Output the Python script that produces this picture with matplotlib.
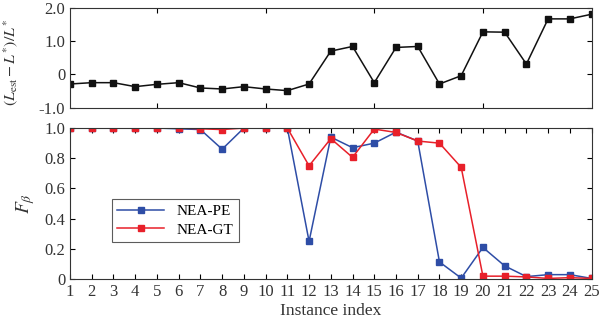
import matplotlib
matplotlib.use('Agg')
import matplotlib.pyplot as plt
import numpy as np

plt.rcParams['font.family'] = ['Liberation Serif', 'DejaVu Serif']
plt.rcParams['mathtext.fontset'] = 'stix'
plt.rcParams['font.size'] = 12

# ---- data ----
instances = np.arange(1, 26)
rel_err = [-0.29, -0.25, -0.25, -0.37, -0.30, -0.25, -0.41, -0.44, -0.37, -0.44,
           -0.49, -0.29, 0.70, 0.84, -0.25, 0.81, 0.84, -0.29, -0.04, 1.28,
           1.27, 0.31, 1.67, 1.67, 1.81]
f_pe = [1.0, 1.0, 1.0, 1.0, 1.0, 0.995, 0.99, 0.86, 1.0, 1.0,
        1.0, 0.25, 0.94, 0.87, 0.90, 0.973, 0.914, 0.114, 0.007, 0.21,
        0.088, 0.017, 0.03, 0.03, 0.005]
f_gt = [1.0, 1.0, 1.0, 1.0, 1.0, 1.0, 0.995, 0.99, 1.0, 1.0,
        1.0, 0.75, 0.93, 0.806, 0.993, 0.971, 0.914, 0.90, 0.74, 0.02,
        0.02, 0.015, 0.005, 0.01, 0.005]

fig = plt.figure(figsize=(6.1, 3.3), dpi=100)
ax1 = fig.add_axes([0.1148, 0.674, 0.855, 0.302])
ax2 = fig.add_axes([0.1148, 0.154, 0.855, 0.458])

for ax in (ax1, ax2):
    ax.tick_params(direction='in', top=True, right=True, length=3.5, width=0.8,
                   labelsize=12, labelcolor='#333333')
    for s in ax.spines.values():
        s.set_linewidth(0.8)
        s.set_color('#333333')

# ---- top panel ----
ax1.plot(instances, rel_err, 's-', color='#111111', lw=1.1, ms=5)
ax1.set_xlim(1, 25)
ax1.set_ylim(-1, 2)
ax1.set_xticks([5, 10, 15, 20])
ax1.set_xticklabels([])
ax1.set_yticks([-1, 0, 1, 2])
ax1.set_yticklabels(['-1.0', '0', '1.0', '2.0'])
ax1.set_ylabel(r'$(L_{\rm est}-L^{*})/L^{*}$', fontsize=11.5, color='#333333')
ax1.yaxis.set_label_coords(-0.095, 0.45)

# ---- bottom panel ----
ax2.plot(instances, f_pe, 's-', color='#2E4DA6', lw=1.1, ms=5, label='NEA-PE')
ax2.plot(instances, f_gt, 's-', color='#E8202A', lw=1.1, ms=5, label='NEA-GT')
ax2.set_xlim(1, 25)
ax2.set_ylim(0, 1.0)
ax2.set_xticks(instances)
ax2.set_yticks([0, 0.2, 0.4, 0.6, 0.8, 1.0])
ax2.set_yticklabels(['0', '0.2', '0.4', '0.6', '0.8', '1.0'])
ax2.set_ylabel(r'$F_{\beta}$', fontsize=14, color='#333333', labelpad=5)
ax2.set_xlabel('Instance index', fontsize=12.5, color='#333333', labelpad=2)
leg = ax2.legend(loc='lower left', bbox_to_anchor=(0.065, 0.195), fontsize=11,
                 frameon=True, fancybox=False, edgecolor='#333333',
                 handlelength=3.1, borderpad=0.35, labelspacing=0.3)
leg.get_frame().set_linewidth(0.8)

fig.savefig('out.png', dpi=100)
